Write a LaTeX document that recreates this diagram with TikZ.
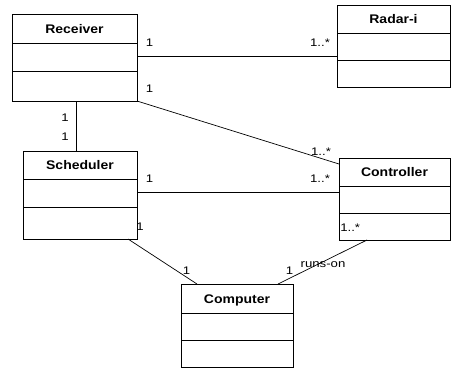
\documentclass[tikz,border=0pt]{standalone}
\usepackage{fontspec}
\setmainfont{Liberation Sans}[FakeStretch=1.2]
\newfontfamily\classfont{Liberation Sans}[FakeStretch=1.12]

% A UML class: name, left, top, right, bottom, first divider, second divider, title
\newcommand\umlclass[8]{%
  \node[classbox, minimum width={#4-#2}, minimum height={#5-#3}] (#1) at (#2,#3) {};
  \draw[divider] (#2,#6) -- (#4,#6);
  \draw[divider] (#2,#7) -- (#4,#7);
  \node[classtitle] (#1-title) at ({(#2+#4)/2},{(#3+#6)/2+4.5}) {#8};
}

\begin{document}
\begin{tikzpicture}[x=1pt, y=-1pt,
  classbox/.style={draw, line width=0.7pt, inner sep=0pt, outer sep=0pt, anchor=north west},
  divider/.style={line width=0.7pt},
  classtitle/.style={anchor=base, inner sep=0pt, font=\classfont\bfseries\fontsize{12.5}{14}\selectfont},
  assoc/.style={line width=0.7pt},
  mult/.style={anchor=base, inner sep=0pt, font=\fontsize{11}{13}\selectfont},
  gapmult/.style={mult, fill=white, inner sep=0.6pt}
]
\useasboundingbox (0,0) rectangle (452,368);

% classes
\umlclass{rec}{12}{14}{137}{101}{43}{71}{Receiver}
\umlclass{radar}{337}{5}{450}{87}{33}{60}{Radar-i}
\umlclass{sched}{23}{151}{137}{239}{179}{207}{Scheduler}
\umlclass{ctrl}{339}{158}{450}{240}{186}{213}{Controller}
\umlclass{comp}{181}{284}{293}{367}{313}{340}{Computer}

% associations
\draw[assoc] ([yshift=1.5pt]rec.east) -- ([yshift=1.5pt]rec.east -| radar.west);
\draw[assoc] (rec.south east) -- ([yshift=-6pt]ctrl.north west);
\draw[assoc] ([xshift=1.5pt]rec.south) -- ([xshift=1.5pt]rec.south |- sched.north);
\draw[assoc] ([yshift=3pt]sched.east) -- ([yshift=3pt]sched.east -| ctrl.west);
\draw[assoc] ([xshift=-9pt]sched.south east) -- ([xshift=16pt]comp.north west);
\draw[assoc] ([xshift=28pt]ctrl.south west) -- ([xshift=-15pt]comp.north east);

% multiplicities and role names
\node[mult] (m1) at (149.5,46.9) {1};
\node[mult] (m2) at (320,46.9) {1..*};
\node[mult] (m3) at (149.5,92.9) {1};
\node[mult] (m4) at (321,155) {1..*};
\node[mult] (m5) at (65,121.9) {1};
\node[mult] (m6) at (65,140.4) {1};
\node[mult] (m7) at (149.5,182.9) {1};
\node[mult] (m8) at (320,182) {1..*};
\node[mult] (m9) at (140,230.9) {1};
\node[gapmult, anchor=base west] (m10) at (339.5,231.5) {1..*};
\node[mult] (m11) at (186.5,274.9) {1};
\node[mult] (m12) at (289.5,274.9) {1};
\node[mult] (role) at (323,267.9) {runs-on};
\end{tikzpicture}
\end{document}
